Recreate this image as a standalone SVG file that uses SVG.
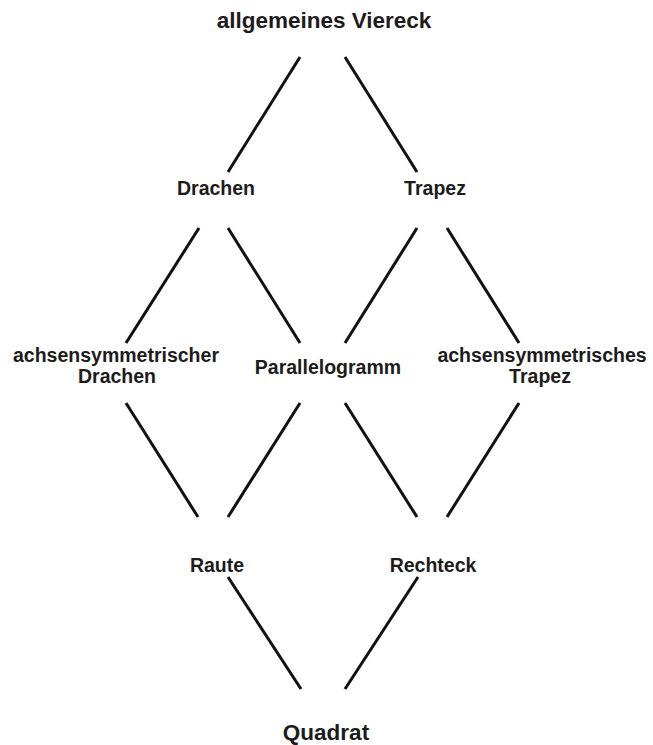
<svg xmlns="http://www.w3.org/2000/svg" width="653" height="745" viewBox="0 0 653 745">
<style>
text{font-family:"Liberation Sans",Arial,sans-serif;font-weight:bold;fill:#1c1c1c;text-anchor:middle;font-size:19.5px}
.big{font-size:22.5px}
.c line{stroke:#111;stroke-width:3;stroke-linecap:butt}
</style>
<rect width="653" height="745" fill="#fff"/>
<g class="c" id="connectors">
<line x1="300" y1="57" x2="228" y2="172"/>
<line x1="345" y1="57" x2="417" y2="172"/>
<line x1="199" y1="228" x2="126" y2="343"/>
<line x1="228" y1="228" x2="300" y2="343"/>
<line x1="417" y1="228" x2="345" y2="343"/>
<line x1="447" y1="228" x2="519" y2="343"/>
<line x1="126" y1="403" x2="198" y2="517"/>
<line x1="300" y1="403" x2="228" y2="517"/>
<line x1="345" y1="403" x2="417" y2="517"/>
<line x1="519" y1="403" x2="447" y2="517"/>
<line x1="228" y1="577" x2="301" y2="689"/>
<line x1="418" y1="577" x2="345" y2="689"/>
</g>
<g id="viereck"><text class="big" x="324" y="28">allgemeines Viereck</text></g>
<g id="drachen"><text x="216" y="195">Drachen</text></g>
<g id="trapez"><text x="435" y="195">Trapez</text></g>
<g id="achsDrachen"><text x="116" y="362">achsensymmetrischer</text><text x="117" y="383">Drachen</text></g>
<g id="parallelogramm"><text x="328" y="374">Parallelogramm</text></g>
<g id="achsTrapez"><text x="542" y="362">achsensymmetrisches</text><text x="540" y="383">Trapez</text></g>
<g id="raute"><text x="217" y="572">Raute</text></g>
<g id="rechteck"><text x="433" y="572">Rechteck</text></g>
<g id="quadrat"><text class="big" x="326" y="740">Quadrat</text></g>
</svg>
